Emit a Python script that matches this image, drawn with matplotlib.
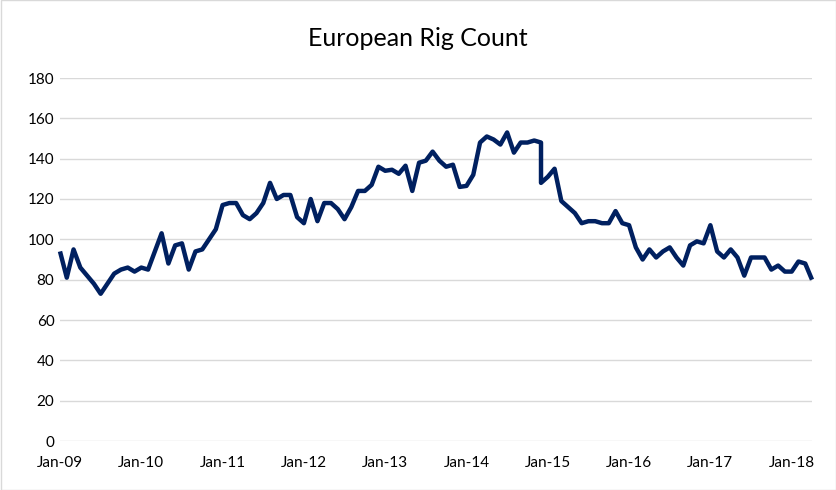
import matplotlib
matplotlib.use("Agg")
import matplotlib.pyplot as plt
from matplotlib.patches import Rectangle
import pandas as pd

title = "European Rig Count"

# Monthly dates Jan-09 .. Apr-18; Dec-14 carries two readings (vertical step)
months = list(pd.date_range("2009-01-01", "2018-04-01", freq="MS"))
months.insert(months.index(pd.Timestamp("2014-12-01")) + 1, pd.Timestamp("2014-12-01"))

rig_count = [
    94, 81, 95, 86, 82, 78, 73, 78, 83, 85, 86, 84,            # 2009
    86, 85, 94, 103, 88, 97, 98, 85, 94, 95, 100, 105,         # 2010
    117, 118, 118, 112, 110, 113, 118, 128, 120, 122, 122, 111,  # 2011
    108, 120, 109, 118, 118, 115, 110, 116, 124, 124, 127, 136,  # 2012
    134, 134.5, 132.5, 136.5, 124, 138, 139, 143.5, 139, 136, 137, 126,  # 2013
    126.5, 132, 148, 151, 149.5, 147, 153, 143, 148, 148, 149, 148, 128,  # 2014
    131, 135, 119, 116, 113, 108, 109, 109, 108, 108, 114, 108,  # 2015
    107, 96, 90, 95, 91, 94, 96, 91, 87, 97, 99, 98,           # 2016
    107, 94, 91, 95, 91, 82, 91, 91, 91, 85, 87, 84,           # 2017
    84, 89, 88, 80,                                            # 2018
]

y_ticks = [0, 20, 40, 60, 80, 100, 120, 140, 160, 180]
x_tick_labels = ["Jan-09", "Jan-10", "Jan-11", "Jan-12", "Jan-13",
                 "Jan-14", "Jan-15", "Jan-16", "Jan-17", "Jan-18"]

FONT = ["Lato", "DejaVu Sans"]
plt.rcParams["font.family"] = FONT

def month_index(d):
    return (d.year - 2009) * 12 + (d.month - 1)

x = [month_index(d) for d in months]
x_ticks = [month_index(pd.Timestamp(f"20{lab[-2:]}-01-01")) for lab in x_tick_labels]

fig = plt.figure(figsize=(8.36, 4.90), dpi=100)
ax = fig.add_axes([60 / 836, 1 - 441 / 490, (812 - 60) / 836, (441 - 78) / 490])

ax.plot(x, rig_count, color="#002060", linewidth=3.2, solid_joinstyle="round",
        solid_capstyle="butt", clip_on=False, zorder=3)

ax.set_xlim(0, max(x))
ax.set_ylim(0, 180)
ax.set_yticks(y_ticks)
ax.set_yticklabels([str(v) for v in y_ticks])
ax.set_xticks(x_ticks)
ax.set_xticklabels(x_tick_labels)

ax.grid(axis="y", color="#d9d9d9", linewidth=1.0)
ax.grid(axis="x", visible=False)
ax.set_axisbelow(True)
for s in ax.spines.values():
    s.set_visible(False)
ax.tick_params(axis="both", length=0, labelsize=11, colors="#000000")
ax.tick_params(axis="y", pad=4)
ax.tick_params(axis="x", pad=11)

fig.text(0.5, 1 - 38 / 490, title, ha="center", va="center", fontsize=18, color="#000000")

fig.patches.append(Rectangle((0.5 / 836, 0.5 / 490), 835 / 836, 489 / 490,
                             transform=fig.transFigure, fill=False,
                             edgecolor="#d9d9d9", linewidth=1.0))

fig.savefig("out.png", dpi=100)
